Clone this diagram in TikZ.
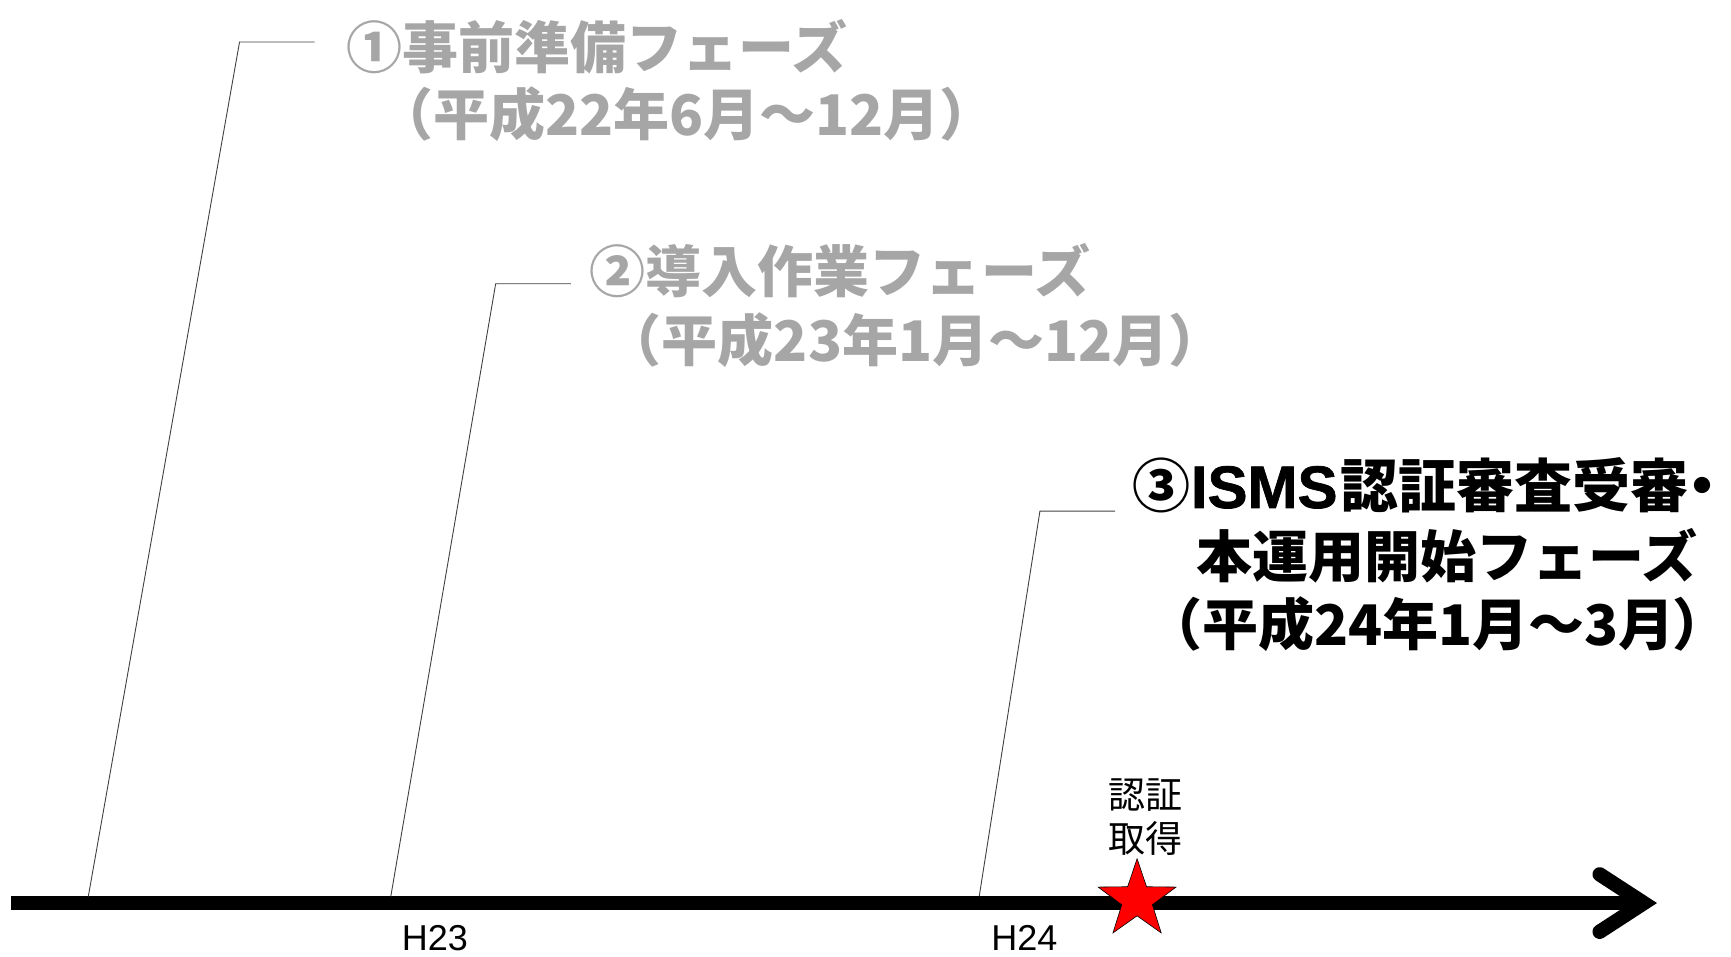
\documentclass[tikz,border=0pt]{standalone}
\usepackage{fontspec}
\setmainfont{Liberation Sans}
\newfontfamily\jp{Noto Sans CJK JP}
\newfontfamily\latb{Liberation Sans}[FakeBold=1.2]
\usetikzlibrary{shapes.geometric}
\definecolor{phasegray}{HTML}{A6A6A6}
\definecolor{leadgray}{HTML}{404040}
\newcommand{\tightchar}[1]{{\addfontfeatures{RawFeature=+palt}#1}}
\tikzset{
  bigtxt/.style={font=\jp\bfseries\fontsize{56}{68}\selectfont, inner sep=0pt, anchor=center},
  graytxt/.style={bigtxt, text=phasegray},
  blacktxt/.style={bigtxt, text=black},
  ticktxt/.style={font=\fontsize{36}{40}\selectfont, inner sep=0pt, anchor=center},
  leader/.style={draw=leadgray, line width=0.9pt},
  axisline/.style={line width=14.4pt},
  chevron/.style={line width=14.4pt, line cap=round, line join=miter},
  starmark/.style={star, star points=5, star point ratio=2.55, minimum size=82pt, inner sep=0pt, fill=red, draw=black, line width=0.6pt}
}
\begin{document}
\begin{tikzpicture}[x=1.104pt, y=-1.104pt]
\path[use as bounding box] (0,0) rectangle (1568,866);
% axis
\coordinate (axL) at (10,818);
\coordinate (axR) at (1489,818);
\coordinate (chU) at (1449,792);
\coordinate (chD) at (1449,844);
\draw[axisline] (axL) -- (axR);
\draw[chevron] (chU) -- (axR) -- (chD);
% leader lines
\coordinate (a1) at (80,812);
\coordinate (b1) at (217,38);
\coordinate (c1) at (285,38);
\coordinate (a2) at (354,812);
\coordinate (b2) at (449,257);
\coordinate (c2) at (517,257);
\coordinate (a3) at (887,812);
\coordinate (b3) at (942,463);
\coordinate (c3) at (1010,463);
\draw[leader] (a1) -- (b1) -- (c1);
\draw[leader] (a2) -- (b2) -- (c2);
\draw[leader] (a3) -- (b3) -- (c3);
% phase texts
\node[graytxt] (t1a) at (541,42) {①事前準備フェーズ};
\node[graytxt] (t1b) at (622,103) {（平成22年6月～12月）};
\node[graytxt] (t2a) at (761,245) {②導入作業フェーズ};
\node[graytxt] (t2b) at (829,308) {（平成23年1月～12月）};
\node[blacktxt, anchor=west, font=\jp\bfseries\fontsize{58}{68}\selectfont] (t3a) at (1026,440) {③{\latb\bfseries\fontsize{60}{68}\selectfont ISMS}\kern0.05em 認証審査受審\tightchar{・}};
\node[blacktxt] (t3b) at (1311,503) {本運用開始フェーズ};
\node[blacktxt, anchor=west] (t3c) at (1038,565) {（平成24年1月～3月\tightchar{）}};
% ticks
\node[ticktxt] (h23) at (394,850) {H23};
\node[ticktxt] (h24) at (928,850) {H24};
% certification
\node[font=\jp\fontsize{37}{44}\selectfont, align=center, inner sep=0pt] (cert) at (1038,740) {認証\\取得};
\node[starmark] (star) at (1030,815) {};
\end{tikzpicture}
\end{document}
